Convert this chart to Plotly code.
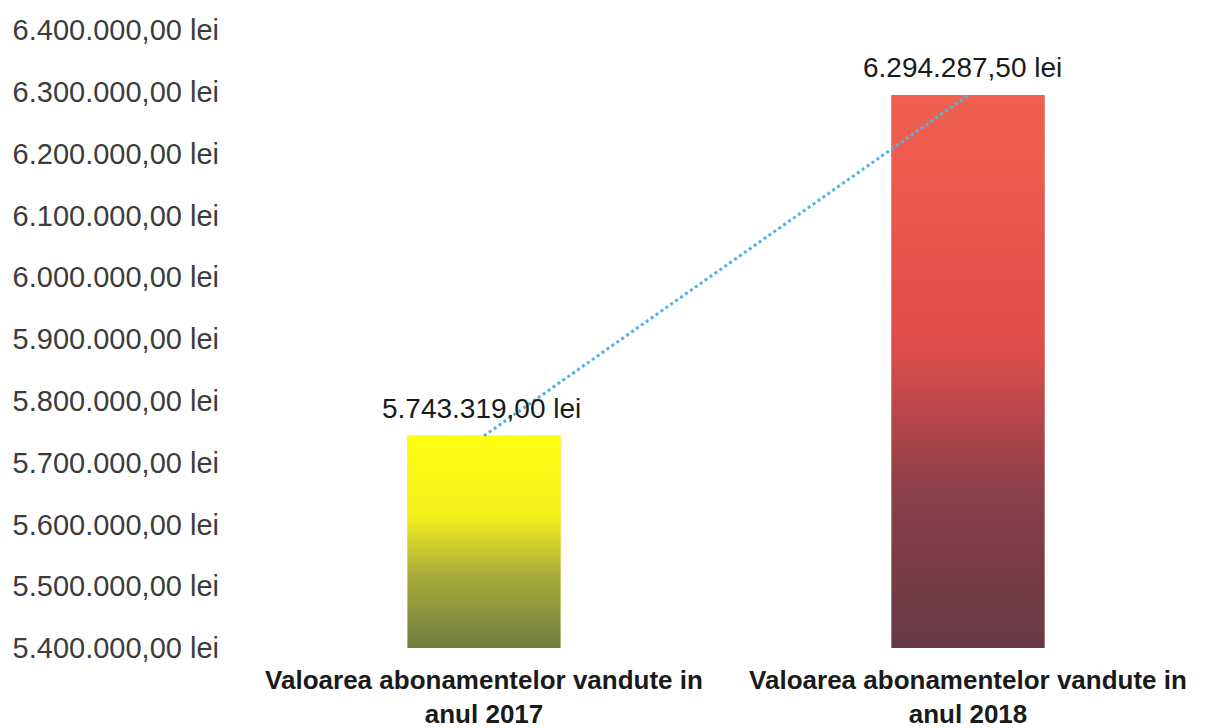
import plotly.graph_objects as go

categories = ["Valoarea abonamentelor vandute in<br>anul 2017",
              "Valoarea abonamentelor vandute in<br>anul 2018"]
values = [5743319.00, 6294287.50]
tick_values = [5400000, 5500000, 5600000, 5700000, 5800000, 5900000,
               6000000, 6100000, 6200000, 6300000, 6400000]


def fmt_lei(v):
    s = f"{v:,.2f}".replace(",", " ").replace(".", ",").replace(" ", ".")
    return s + " lei"


tick_text = [fmt_lei(v) for v in tick_values]
label_text = [fmt_lei(v) for v in values]
label_xshift = [-3, -6]

y_min, y_max = 5400000, 6400000
bar_width = 0.316
positions = list(range(len(categories)))

gradients = [
    [[0.0, "#6e7d3f"], [0.35, "#aaad3a"], [0.62, "#f3ef1c"], [1.0, "#ffff10"]],
    [[0.0, "#673a47"], [0.28, "#8a3f49"], [0.55, "#e04e49"], [1.0, "#f0604f"]],
]
mid_colors = ["#d6d22a", "#c04a4a"]
FONT = "Liberation Sans, Arial, sans-serif"

fig = go.Figure()

fig.add_trace(go.Bar(
    x=positions, y=values, width=bar_width,
    marker=dict(color=mid_colors, line=dict(width=0)),
    showlegend=False, hoverinfo="skip",
))

for i, v in enumerate(values):
    x0, x1 = positions[i] - bar_width / 2, positions[i] + bar_width / 2
    fig.add_trace(go.Scatter(
        x=[x0, x1, x1, x0, x0], y=[y_min, y_min, v, v, y_min],
        mode="lines", line=dict(width=0), fill="toself",
        fillgradient=dict(type="vertical", colorscale=gradients[i], start=y_min, stop=v),
        showlegend=False, hoverinfo="skip",
    ))

fig.add_trace(go.Scatter(
    x=positions, y=values, mode="lines",
    line=dict(color="#4fb3e8", width=3, dash="dot"),
    showlegend=False, hoverinfo="skip",
))

for i, v in enumerate(values):
    fig.add_annotation(x=positions[i], y=v, text=label_text[i], showarrow=False,
                       yanchor="bottom", yshift=10, xshift=label_xshift[i],
                       font=dict(family=FONT, size=28, color="#1a1a1a"))

fig.update_layout(
    width=1210, height=728,
    margin=dict(l=242, r=0, t=30, b=80, autoexpand=False),
    paper_bgcolor="white", plot_bgcolor="white",
    xaxis=dict(range=[-0.5, 1.5], tickvals=positions, ticktext=categories,
               showgrid=False, zeroline=False, showline=False, ticks="",
               automargin=False,
               tickfont=dict(family=FONT, size=26, color="#1a1a1a", weight="bold"),
               ticklabelstandoff=14),
    yaxis=dict(range=[y_min, y_max], tickvals=tick_values, ticktext=tick_text,
               showgrid=False, zeroline=False, showline=False, ticks="",
               automargin=False,
               tickfont=dict(family=FONT, size=29, color="#3c3c3c"),
               ticklabelstandoff=22),
)

fig.write_html("out.html", config={"displayModeBar": False},
               post_script="document.body.style.margin='0px';document.body.style.overflow='hidden';")
